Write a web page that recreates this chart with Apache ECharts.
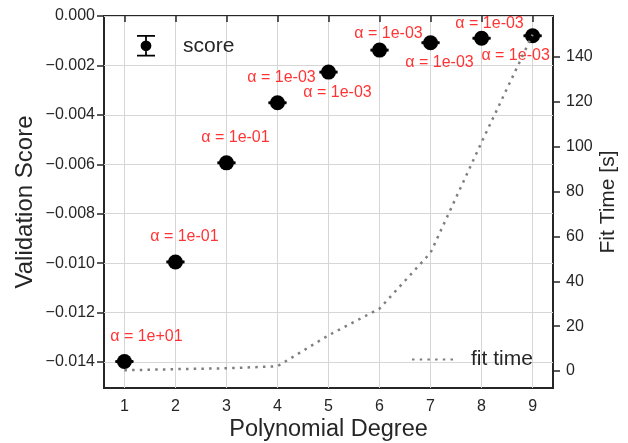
<!DOCTYPE html>
<html>
<head>
<meta charset="utf-8">
<script src="https://cdn.jsdelivr.net/npm/echarts@6/dist/echarts.min.js"></script>
<style>
  html, body { margin: 0; padding: 0; background: #fff; }
  #chart { width: 628px; height: 443px; }
</style>
</head>
<body>
<div id="chart"></div>
<script>
  // polynomial degree on x
  const degrees = [1, 2, 3, 4, 5, 6, 7, 8, 9];
  // validation score (mean) and its error
  const scores = [-0.01398, -0.00995, -0.00594, -0.00351, -0.00227, -0.00138, -0.00108, -0.00090, -0.00080];
  const scoreErr = [0.00002, 0.00002, 0.00002, 0.00002, 0.00002, 0.00002, 0.00002, 0.00002, 0.00002];
  // fit time in seconds
  const fitTimes = [0.3, 0.8, 1.2, 2.1, 15.9, 27.8, 52.7, 102, 150];
  // best alpha per degree
  const alphas = ['1e+01', '1e-01', '1e-01', '1e-03', '1e-03', '1e-03', '1e-03', '1e-03', '1e-03'];
  // tick labels
  const xTicks = [1, 2, 3, 4, 5, 6, 7, 8, 9];
  const scoreTicks = [0, -0.002, -0.004, -0.006, -0.008, -0.010, -0.012, -0.014];
  const timeTicks = [0, 20, 40, 60, 80, 100, 120, 140];

  // where each alpha label sits relative to its point (px)
  const labelOffsets = [[22, -25], [9, -25], [9, -25], [4, -25], [9, 20], [9, -17], [9, 20], [8, -15], [-17, 20]];

  const font = 'Liberation Sans, Arial, sans-serif';
  const dark = '#262626';
  const gridColor = '#d6d6d6';

  function minus(s) { return s.replace('-', '\u2212'); }

  const chart = echarts.init(document.getElementById('chart'), null, {renderer: 'canvas'});

  // errorbar legend glyph: caps, stem and dot
  const errIcon = 'path://M0,0 L20,0 L20,2 L0,2 Z M0,22 L20,22 L20,24 L0,24 Z M9,0 L11,0 L11,24 L9,24 Z ' +
    'M4,12 A6,6 0 1,1 16,12 A6,6 0 1,1 4,12 Z';

  const option = {
    animation: false,
    grid: {
      left: 104, right: 75, top: 16, bottom: 55,
      outerBoundsMode: 'none',
      containLabel: false,
      show: true, borderColor: dark, borderWidth: 2, backgroundColor: 'transparent'
    },
    legend: [
      {
        data: [{name: 'score', icon: errIcon}],
        left: 132, top: 30,
        itemWidth: 18, itemHeight: 24,
        textStyle: {fontFamily: font, fontSize: 21, color: dark, padding: [0, 0, 0, 23]}
      },
      {
        data: [{name: 'fit time', itemStyle: {opacity: 0}}],
        left: 406, top: 344,
        itemWidth: 46, itemHeight: 14,
        textStyle: {fontFamily: font, fontSize: 21, color: dark, padding: [0, 0, 0, 8]}
      }
    ],
    xAxis: {
      type: 'value',
      min: 0.6, max: 9.4,
      name: 'Polynomial Degree',
      nameLocation: 'middle',
      nameGap: 30,
      nameMoveOverlap: false,
      nameTextStyle: {fontFamily: font, fontSize: 23.5, color: dark},
      axisLine: {show: false},
      axisTick: {show: true, length: 6, lineStyle: {color: dark, width: 1.5}, customValues: xTicks},
      axisLabel: {fontFamily: font, fontSize: 16, color: dark, margin: 11, customValues: xTicks},
      splitLine: {show: true, lineStyle: {color: gridColor, width: 1}}
    },
    yAxis: [
      {
        type: 'value',
        min: -0.01505, max: 0,
        name: 'Validation Score',
        nameLocation: 'middle',
        nameRotate: 90,
        nameGap: 67,
        nameMoveOverlap: false,
        nameTextStyle: {fontFamily: font, fontSize: 24, color: dark},
        axisLine: {show: false},
        axisTick: {show: true, length: 7, lineStyle: {color: dark, width: 1.5}, customValues: scoreTicks},
        axisLabel: {
          fontFamily: font, fontSize: 16, color: dark, margin: 9, customValues: scoreTicks,
          formatter: v => minus(v.toFixed(3))
        },
        splitLine: {show: true, lineStyle: {color: gridColor, width: 1}}
      },
      {
        type: 'value',
        position: 'right',
        min: -7.6, max: 158.3,
        name: 'Fit Time [s]',
        nameLocation: 'middle',
        nameRotate: 90,
        nameGap: 45,
        nameMoveOverlap: false,
        nameTextStyle: {fontFamily: font, fontSize: 21, color: dark},
        axisLine: {show: false},
        axisTick: {show: true, length: 7, lineStyle: {color: dark, width: 1.5}, customValues: timeTicks},
        axisLabel: {fontFamily: font, fontSize: 16, color: dark, margin: 13, customValues: timeTicks},
        splitLine: {show: false}
      }
    ],
    series: [
      {
        name: 'score',
        type: 'custom',
        xAxisIndex: 0, yAxisIndex: 0,
        itemStyle: {color: '#000'},
        data: degrees.map((d, i) => [d, scores[i], scoreErr[i]]),
        renderItem: function (params, api) {
          const x = api.value(0), y = api.value(1), e = api.value(2);
          const lo = api.coord([x, y - e]);
          const hi = api.coord([x, y + e]);
          const c = api.coord([x, y]);
          const cap = 9;
          const ls = {stroke: '#000', lineWidth: 2};
          return {
            type: 'group',
            children: [
              {type: 'line', shape: {x1: lo[0], y1: lo[1], x2: hi[0], y2: hi[1]}, style: ls},
              {type: 'line', shape: {x1: lo[0] - cap, y1: lo[1], x2: lo[0] + cap, y2: lo[1]}, style: ls},
              {type: 'line', shape: {x1: hi[0] - cap, y1: hi[1], x2: hi[0] + cap, y2: hi[1]}, style: ls},
              {type: 'circle', shape: {cx: c[0], cy: c[1], r: 7.5}, style: {fill: '#000'}}
            ]
          };
        },
        z: 3
      },
      {
        name: 'alpha',
        type: 'scatter',
        xAxisIndex: 0, yAxisIndex: 0,
        symbolSize: 1,
        itemStyle: {color: 'rgba(0,0,0,0)'},
        silent: true,
        data: degrees.map((d, i) => ({
          value: [d, scores[i]],
          label: {offset: labelOffsets[i]}
        })),
        label: {
          show: true,
          position: 'inside',
          formatter: p => '\u03b1 = ' + alphas[p.dataIndex],
          fontFamily: font, fontSize: 16, color: '#ff0000'
        },
        z: 4
      },
      {
        name: 'fit time',
        type: 'line',
        xAxisIndex: 0, yAxisIndex: 1,
        data: degrees.map((d, i) => [d, fitTimes[i]]),
        showSymbol: false,
        symbol: 'none',
        itemStyle: {color: '#7f7f7f'},
        lineStyle: {color: '#7f7f7f', width: 2.5, type: [2.5, 5.2]},
        z: 5
      }
    ]
  };

  chart.setOption(option);
</script>
</body>
</html>
